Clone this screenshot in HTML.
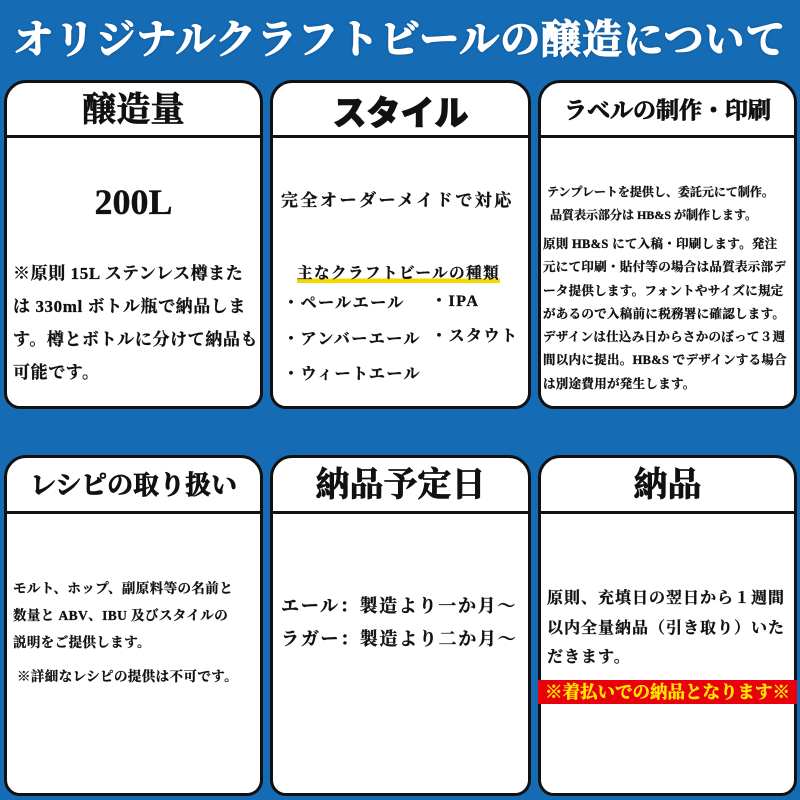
<!DOCTYPE html>
<html><head><meta charset="utf-8"><style>
*{margin:0;padding:0;box-sizing:border-box}
body{width:800px;height:800px;background:#156cb5;position:relative;overflow:hidden;font-family:"Liberation Serif","Noto Serif CJK SC","Noto Sans CJK JP",serif;color:#111}
.title{position:absolute;left:0;top:8px;width:800px;text-align:center;color:#fff;font-size:40px;font-weight:bold;letter-spacing:1px;-webkit-text-stroke:1.2px #fff;text-shadow:0 0 3px #0a3a70}
.card{position:absolute;background:#fff;border:3px solid #111;border-radius:22px 22px 16px 16px}
.hd{position:absolute;left:0;right:0;top:0;border-bottom:3px solid #111;text-align:center;font-weight:bold;-webkit-text-stroke:0.8px #111}
.t{position:absolute;font-weight:bold;white-space:nowrap;-webkit-text-stroke:0.3px #111}
</style></head><body>
<div class="title">オリジナルクラフトビールの醸造について</div>

<div class="card" style="left:4px;top:80px;width:259px;height:329px">
 <div class="hd" style="height:55px;font-size:34px;line-height:55px">醸造量</div>
 <div class="t" style="left:0;width:253px;text-align:center;top:98px;font-size:36px">200L</div>
 <div class="t" style="left:6px;top:174px;font-size:17px;line-height:33px;letter-spacing:0.6px">※原則 15L ステンレス樽また<br>は 330ml ボトル瓶で納品しま<br>す。樽とボトルに分けて納品も<br>可能です。</div>
</div>

<div class="card" style="left:270px;top:80px;width:261px;height:329px">
 <div class="hd" style="height:55px;font-size:34px;line-height:55px;font-family:'Noto Sans CJK JP',sans-serif;font-weight:900">スタイル</div>
 <div class="t" style="left:8px;top:103px;font-size:17px;letter-spacing:2.5px">完全オーダーメイドで対応</div>
 <div class="t" style="left:24px;top:178px;font-size:15.5px;letter-spacing:1.5px;background:linear-gradient(transparent 80%,#f5d800 80%)">主なクラフトビールの種類</div>
 <div class="t" style="left:10px;top:207px;font-size:16px;letter-spacing:1.5px">・ペールエール</div>
 <div class="t" style="left:158px;top:205px;font-size:16px;letter-spacing:1.5px">・IPA</div>
 <div class="t" style="left:10px;top:243px;font-size:16px;letter-spacing:1.5px">・アンバーエール</div>
 <div class="t" style="left:158px;top:240px;font-size:16px;letter-spacing:1.5px">・スタウト</div>
 <div class="t" style="left:10px;top:278px;font-size:16px;letter-spacing:1.5px">・ウィートエール</div>
</div>

<div class="card" style="left:538px;top:80px;width:259px;height:329px">
 <div class="hd" style="height:55px;font-size:23px;line-height:55px">ラベルの制作・印刷</div>
 <div class="t" style="left:6px;top:98px;font-size:12px;line-height:23px">テンプレートを提供し、委託元にて制作。<br>&nbsp;品質表示部分は HB&amp;S が制作します。</div>
 <div class="t" style="left:2px;top:150px;font-size:12.5px;line-height:23.3px;letter-spacing:0.3px">原則 HB&amp;S にて入稿・印刷します。発注<br>元にて印刷・貼付等の場合は品質表示部デ<br>ータ提供します。フォントやサイズに規定<br>があるので入稿前に税務署に確認します。</div>
 <div class="t" style="left:2px;top:243px;font-size:12.5px;line-height:23.3px;letter-spacing:0.3px">デザインは仕込み日からさかのぼって３週<br>間以内に提出。HB&amp;S でデザインする場合<br>は別途費用が発生します。</div>
</div>

<div class="card" style="left:4px;top:455px;width:259px;height:341px">
 <div class="hd" style="height:56px;font-size:26px;line-height:56px">レシピの取り扱い</div>
 <div class="t" style="left:6px;top:117px;font-size:13.5px;line-height:27px;letter-spacing:0.4px">モルト、ホップ、副原料等の名前と<br>数量と ABV、IBU 及びスタイルの<br>説明をご提供します。</div>
 <div class="t" style="left:10px;top:207px;font-size:13.5px;letter-spacing:0.4px">※詳細なレシピの提供は不可です。</div>
</div>

<div class="card" style="left:270px;top:455px;width:261px;height:341px">
 <div class="hd" style="height:56px;font-size:34px;line-height:56px">納品予定日</div>
 <div class="t" style="left:8px;top:134px;font-size:18px;letter-spacing:1.7px">エール：製造より一か月～</div>
 <div class="t" style="left:8px;top:167px;font-size:18px;letter-spacing:1.7px">ラガー：製造より二か月～</div>
</div>

<div class="card" style="left:538px;top:455px;width:259px;height:341px">
 <div class="hd" style="height:56px;font-size:34px;line-height:56px">納品</div>
 <div class="t" style="left:6px;top:126px;font-size:16px;line-height:29.5px;letter-spacing:1px">原則、充填日の翌日から１週間<br>以内全量納品（引き取り）いた<br>だきます。</div>
 <div class="t" style="left:-3px;top:222px;width:259px;text-align:center;height:24px;line-height:24px;font-size:17.5px;color:#ffe800;background:#e8000a;-webkit-text-stroke:0.5px #ffe800">※着払いでの納品となります※</div>
</div>
</div>
</body></html>
